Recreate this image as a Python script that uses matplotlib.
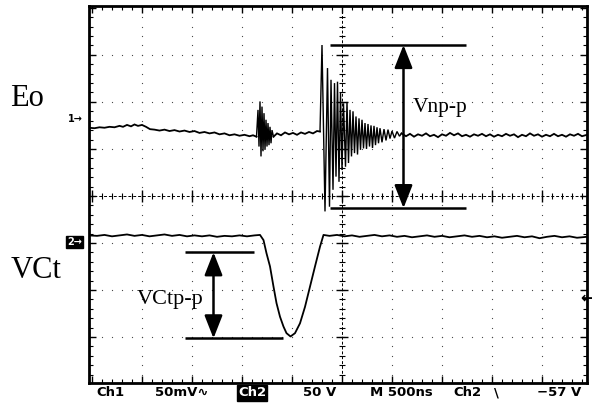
import numpy as np
import matplotlib
matplotlib.use("Agg")
import matplotlib.pyplot as plt

# ---------------- data (time in divisions, 500 ns/div; amplitude in divisions) ----------------
eo_base_left = [(-0.06, 1.45), (0.05, 1.44), (0.15, 1.46), (0.25, 1.45), (0.35, 1.47), (0.45, 1.46),
                (0.55, 1.49), (0.62, 1.47), (0.70, 1.51), (0.78, 1.48), (0.85, 1.52), (0.92, 1.49),
                (1.00, 1.51), (1.08, 1.47), (1.16, 1.42), (1.25, 1.41), (1.35, 1.39), (1.45, 1.41),
                (1.55, 1.38), (1.65, 1.40), (1.75, 1.37), (1.85, 1.39), (1.95, 1.36), (2.05, 1.38),
                (2.15, 1.34), (2.25, 1.36), (2.35, 1.33), (2.45, 1.35), (2.55, 1.31), (2.65, 1.33),
                (2.75, 1.29), (2.85, 1.31), (2.95, 1.28), (3.05, 1.30), (3.15, 1.27), (3.22, 1.29),
                (3.29, 1.26)]
eo_small_burst = [(3.29, 1.26), (3.32, 1.83), (3.34, 1.05), (3.36, 2.01), (3.38, 0.84), (3.40, 1.90),
                  (3.42, 0.95), (3.44, 1.76), (3.46, 0.98), (3.48, 1.62), (3.50, 1.05), (3.52, 1.55),
                  (3.54, 1.08), (3.56, 1.47), (3.58, 1.12), (3.60, 1.40), (3.63, 1.26)]
eo_base_mid = [(3.63, 1.26), (3.70, 1.33), (3.78, 1.29), (3.86, 1.35), (3.94, 1.31), (4.02, 1.34),
               (4.10, 1.30), (4.18, 1.35), (4.26, 1.32), (4.34, 1.36), (4.42, 1.33), (4.50, 1.38),
               (4.56, 1.37)]
eo_big_burst = [(4.56, 1.37), (4.60, 3.21), (4.66, -0.33), (4.71, 2.72), (4.75, -0.23), (4.78, 2.47),
                (4.82, 0.13), (4.85, 2.40), (4.88, 0.41), (4.91, 2.43), (4.94, 0.30), (4.97, 2.19),
                (5.00, 0.55), (5.03, 1.97), (5.07, 0.62), (5.10, 2.00), (5.13, 0.70), (5.16, 1.83),
                (5.19, 0.84), (5.22, 1.80), (5.25, 0.91), (5.28, 1.69), (5.31, 0.88), (5.34, 1.65),
                (5.37, 0.98), (5.40, 1.62), (5.43, 1.01), (5.46, 1.55), (5.49, 1.00), (5.52, 1.53),
                (5.55, 1.05), (5.58, 1.50), (5.61, 1.02), (5.64, 1.49), (5.67, 1.08), (5.70, 1.46),
                (5.73, 1.12), (5.76, 1.44), (5.80, 1.14), (5.84, 1.42), (5.88, 1.18), (5.92, 1.41),
                (5.96, 1.22), (6.00, 1.38), (6.05, 1.23), (6.10, 1.37), (6.15, 1.27), (6.19, 1.33)]
eo_base_right = [(6.19, 1.33), (6.28, 1.27), (6.36, 1.32), (6.44, 1.26), (6.52, 1.31), (6.60, 1.28),
                 (6.68, 1.33), (6.76, 1.27), (6.84, 1.30), (6.92, 1.25), (7.00, 1.31), (7.08, 1.28),
                 (7.16, 1.34), (7.24, 1.29), (7.32, 1.33), (7.40, 1.27), (7.48, 1.30), (7.56, 1.26),
                 (7.64, 1.31), (7.72, 1.28), (7.80, 1.32), (7.88, 1.27), (7.96, 1.31), (8.04, 1.26),
                 (8.12, 1.30), (8.20, 1.27), (8.28, 1.32), (8.36, 1.28), (8.44, 1.31), (8.52, 1.25),
                 (8.60, 1.30), (8.68, 1.27), (8.76, 1.33), (8.84, 1.28), (8.92, 1.31), (9.00, 1.26),
                 (9.08, 1.30), (9.16, 1.27), (9.24, 1.32), (9.32, 1.27), (9.40, 1.30), (9.48, 1.26),
                 (9.56, 1.31), (9.64, 1.28), (9.72, 1.32), (9.80, 1.27), (9.90, 1.30)]

vct_base_left = [(-0.06, -0.84), (0.10, -0.85), (0.25, -0.83), (0.40, -0.86), (0.55, -0.84),
                 (0.70, -0.82), (0.85, -0.85), (1.00, -0.83), (1.15, -0.86), (1.30, -0.84),
                 (1.45, -0.82), (1.60, -0.85), (1.75, -0.83), (1.90, -0.86), (2.05, -0.84),
                 (2.20, -0.86), (2.35, -0.84), (2.50, -0.87), (2.65, -0.85), (2.80, -0.86),
                 (2.95, -0.84), (3.10, -0.86), (3.25, -0.84), (3.36, -0.83)]
vct_dip = [(3.43, -0.94), (3.49, -1.22), (3.56, -1.50), (3.63, -1.93), (3.69, -2.28), (3.76, -2.57),
           (3.83, -2.78), (3.89, -2.92), (3.97, -2.99), (4.06, -2.92), (4.16, -2.71), (4.26, -2.36),
           (4.36, -1.93), (4.46, -1.50), (4.56, -1.08), (4.63, -0.83)]
vct_base_right = [(4.75, -0.85), (4.90, -0.83), (5.05, -0.86), (5.20, -0.84), (5.35, -0.87),
                  (5.50, -0.85), (5.65, -0.83), (5.80, -0.86), (5.95, -0.84), (6.10, -0.87),
                  (6.25, -0.85), (6.40, -0.88), (6.55, -0.86), (6.70, -0.84), (6.85, -0.87),
                  (7.00, -0.85), (7.15, -0.88), (7.30, -0.86), (7.45, -0.84), (7.60, -0.87),
                  (7.75, -0.85), (7.90, -0.88), (8.05, -0.86), (8.20, -0.89), (8.35, -0.87),
                  (8.50, -0.85), (8.65, -0.88), (8.80, -0.86), (8.95, -0.90), (9.10, -0.87),
                  (9.25, -0.85), (9.40, -0.88), (9.55, -0.86), (9.70, -0.89), (9.90, -0.87)]

# annotation levels
vnpp_top, vnpp_bottom = 3.21, -0.26
vnpp_x0, vnpp_x1, vnpp_arrow_x = 4.76, 7.48, 6.23
vct_top, vct_bottom = -1.20, -3.03
vct_top_x = (1.86, 3.24)
vct_bottom_x = (1.86, 3.82)
vct_arrow_x = 2.43

status_texts = ["Ch1", "50mV\u223f", "Ch2", "50 V", "M 500ns", "Ch2", "\\", "\u221257 V"]
status_px = [96, 155, 238, 303, 370, 453, 494, 537]

# ---------------- figure ----------------
W, H = 592, 403
fig = plt.figure(figsize=(W / 100, H / 100), dpi=100)
fig.patch.set_facecolor("white")
ax = fig.add_axes([89 / W, (H - 383) / H, 498 / W, 377 / H])
ax.set_xlim(-0.06, 9.9)
ax.set_ylim(-3.98, 4.04)

for sp in ax.spines.values():
    sp.set_linewidth(2.0)
    sp.set_color("black")

ax.set_xticks(np.arange(0, 10, 1))
ax.set_yticks(np.arange(-3, 5, 1))
ax.set_xticks(np.arange(0, 9.9, 0.2), minor=True)
ax.set_yticks(np.arange(-3.8, 4.01, 0.2), minor=True)
ax.tick_params(which="both", direction="in", top=True, right=True, bottom=True, left=True,
               labelbottom=False, labelleft=False, color="black")
ax.tick_params(which="major", length=5, width=1)
ax.tick_params(which="minor", length=3, width=0.8)

# graticule dots
minor_x = np.arange(0, 9.9, 0.2)
minor_y = np.arange(-3.8, 4.0, 0.2)
for gx in [1, 2, 3, 4, 6, 7, 8, 9]:
    ax.scatter(np.full_like(minor_y, gx), minor_y, s=0.8, color="#444444", lw=0, zorder=1)
for gy in [-3, -2, -1, 1, 2, 3]:
    ax.scatter(minor_x, np.full_like(minor_x, gy), s=0.8, color="#444444", lw=0, zorder=1)

# center cross with ticks
ax.axhline(0, color="black", lw=0.7, ls=(0, (3, 2)), zorder=1)
ax.axvline(5, color="black", lw=0.7, ls=(0, (3, 2)), zorder=1)
ax.vlines(minor_x, -0.06, 0.06, color="black", lw=0.8, zorder=1)
ax.vlines(np.arange(0, 10, 1), -0.13, 0.13, color="black", lw=1.0, zorder=1)
ax.hlines(minor_y, 4.94, 5.06, color="black", lw=0.8, zorder=1)
ax.hlines(np.arange(-3, 4, 1), 4.88, 5.12, color="black", lw=1.0, zorder=1)

# traces
for seg, lw in [(eo_base_left, 1.3), (eo_small_burst, 1.0), (eo_base_mid, 1.3),
                (eo_big_burst, 1.0), (eo_base_right, 1.3)]:
    st, sv = zip(*seg)
    ax.plot(st, sv, color="black", lw=lw, zorder=3, solid_joinstyle="miter")
vc = vct_base_left + vct_dip + vct_base_right
vt, vv = zip(*vc)
ax.plot(vt, vv, color="black", lw=1.3, zorder=3)

# Vnp-p annotation
ax.hlines([vnpp_top, vnpp_bottom], vnpp_x0, vnpp_x1, color="black", lw=1.8, zorder=4)
ax.annotate("", xy=(vnpp_arrow_x, vnpp_top), xytext=(vnpp_arrow_x, vnpp_bottom),
            arrowprops=dict(arrowstyle="<|-|>,head_length=1.4,head_width=0.55", mutation_scale=10,
                            lw=1.8, color="black", shrinkA=0, shrinkB=0), zorder=4)
ax.text(6.42, 1.89, "Vnp-p", family="Liberation Serif", fontsize=15.5, ha="left", va="center")

# VCtp-p annotation
ax.hlines(vct_top, *vct_top_x, color="black", lw=1.8, zorder=4)
ax.hlines(vct_bottom, *vct_bottom_x, color="black", lw=1.8, zorder=4)
ax.annotate("", xy=(vct_arrow_x, vct_top), xytext=(vct_arrow_x, vct_bottom),
            arrowprops=dict(arrowstyle="<|-|>,head_length=1.4,head_width=0.55", mutation_scale=10,
                            lw=1.8, color="black", shrinkA=0, shrinkB=0), zorder=4)
ax.text(0.89, -2.21, "VCtp-p", family="Liberation Serif", fontsize=16, ha="left", va="center")

# labels outside the screen
fig.text(10 / W, 1 - 98 / H, "Eo", family="Liberation Serif", fontsize=22, ha="left", va="center")
fig.text(11 / W, 1 - 270 / H, "VCt", family="Liberation Serif", fontsize=22, ha="left", va="center")
fig.text(68 / W, 1 - 119 / H, "1\u2192", family="DejaVu Sans", fontweight="bold", fontsize=7,
         ha="left", va="center")
fig.text(67 / W, 1 - 242 / H, "2\u2192", family="DejaVu Sans", fontweight="bold", fontsize=7,
         ha="left", va="center", color="white",
         bbox=dict(boxstyle="square,pad=0.1", fc="black", ec="black"))
fig.text(580 / W, 1 - 298 / H, "\u2190", family="DejaVu Sans", fontweight="bold", fontsize=11,
         ha="left", va="center")

# status line
for txt, px in zip(status_texts, status_px):
    kw = {}
    if txt == "Ch2" and px == 238:
        kw = dict(color="white", bbox=dict(boxstyle="square,pad=0.1", fc="black", ec="black"))
    fig.text(px / W, 1 - 393 / H, txt, family="DejaVu Sans", fontweight="bold", fontsize=9.5,
             ha="left", va="center", **kw)

fig.savefig("out.png", dpi=100, facecolor="white")
